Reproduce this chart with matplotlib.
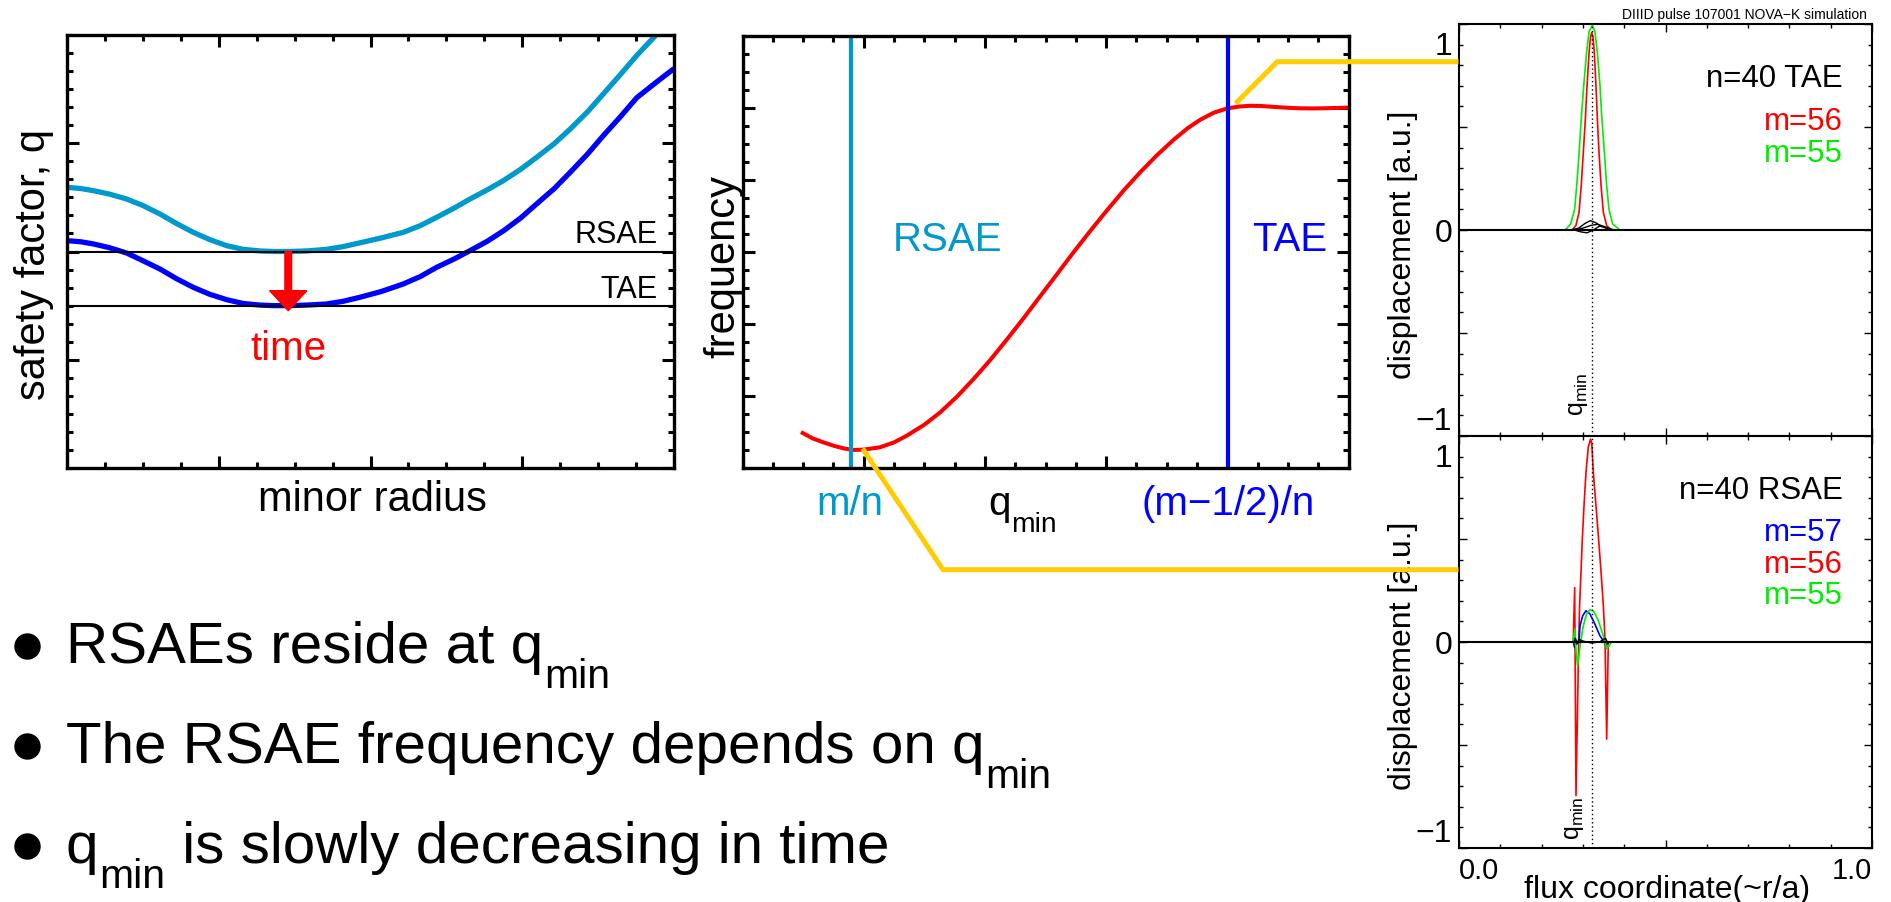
import matplotlib
matplotlib.use('Agg')
import matplotlib.pyplot as plt
from matplotlib.lines import Line2D
from matplotlib.ticker import MultipleLocator, FixedLocator

plt.rcParams['font.family'] = ['Liberation Sans', 'DejaVu Sans']

W, H = 1891, 903

# --- panel 1: safety factor profiles (early = light blue, late = blue)
r_early = [0.0, 0.09, 0.174, 0.28, 0.393, 0.50, 0.613, 0.72, 0.832, 0.94, 1.052, 1.16,
           1.272, 1.36, 1.459, 1.58, 1.71, 1.82, 1.93, 2.07, 2.216, 2.33, 2.436, 2.55,
           2.656, 2.77, 2.875, 2.99, 3.095, 3.21, 3.315, 3.43, 3.534, 3.65, 3.754, 3.875,
           3.91]
q_early = [2.593, 2.582, 2.562, 2.53, 2.485, 2.425, 2.346, 2.26, 2.177, 2.11, 2.054, 2.02,
           2.005, 2.0, 2.0, 2.005, 2.02, 2.045, 2.08, 2.125, 2.177, 2.24, 2.316, 2.40,
           2.485, 2.57, 2.654, 2.76, 2.87, 2.995, 3.13, 3.29, 3.455, 3.64, 3.81, 3.99,
           4.05]
r_late = [0.0, 0.09, 0.174, 0.28, 0.393, 0.50, 0.613, 0.72, 0.832, 0.94, 1.052, 1.16,
          1.272, 1.36, 1.459, 1.58, 1.71, 1.82, 1.93, 2.07, 2.216, 2.33, 2.436, 2.55,
          2.656, 2.77, 2.875, 2.99, 3.095, 3.21, 3.315, 3.43, 3.534, 3.65, 3.754, 3.88,
          4.0]
q_late = [2.10, 2.09, 2.07, 2.035, 1.986, 1.915, 1.838, 1.75, 1.669, 1.605, 1.555, 1.52,
          1.505, 1.5, 1.5, 1.505, 1.515, 1.54, 1.577, 1.63, 1.70, 1.77, 1.854, 1.93,
          2.008, 2.095, 2.19, 2.31, 2.44, 2.58, 2.73, 2.90, 3.07, 3.25, 3.42, 3.56,
          3.69]
q_rsae = 2.0
q_tae = 1.5
r_qmin = 1.458

# --- panel 2: frequency vs qmin
qmin_vals = [0.497, 0.58, 0.667, 0.76, 0.84, 0.914, 1.0, 1.134, 1.25, 1.355, 1.5, 1.63,
             1.77, 1.904, 2.04, 2.18, 2.32, 2.455, 2.6, 2.73, 2.87, 3.005, 3.15, 3.28,
             3.42, 3.555, 3.67, 3.775, 3.89, 4.003, 4.1, 4.187, 4.28, 4.38, 4.5, 4.6,
             4.7, 4.79, 4.9, 5.0]
freq_vals = [0.485, 0.41, 0.356, 0.305, 0.27, 0.25, 0.255, 0.287, 0.355, 0.448, 0.60, 0.77,
             0.99, 1.23, 1.49, 1.78, 2.08, 2.38, 2.70, 2.99, 3.29, 3.57, 3.86, 4.10,
             4.34, 4.55, 4.71, 4.83, 4.93, 4.99, 5.015, 5.025, 5.022, 5.01, 4.997, 4.99,
             4.988, 4.99, 4.995, 5.0]
q_mn = 0.895
q_m_half = 4.003

# --- right panels: NOVA-K mode structures, n=40
x_qmin = 0.321

tae_x_m56 = [0.0, 0.273, 0.283, 0.2906, 0.296, 0.301, 0.306, 0.310, 0.315, 0.3185, 0.3213,
             0.3245, 0.3276, 0.3317, 0.335, 0.339, 0.344, 0.3495, 0.3576, 0.37, 1.0]
tae_y_m56 = [0.0, 0.0, 0.023, 0.094, 0.237, 0.415, 0.593, 0.770, 0.949, 1.03, 1.055,
             1.03, 0.949, 0.770, 0.593, 0.415, 0.237, 0.094, 0.023, 0.0, 0.0]
tae_x_m55 = [0.0, 0.257, 0.2705, 0.280, 0.285, 0.291, 0.296, 0.302, 0.309, 0.315, 0.3228,
             0.329, 0.335, 0.3414, 0.346, 0.352, 0.3576, 0.363, 0.372, 0.39, 1.0]
tae_y_m55 = [0.0, 0.0, 0.032, 0.112, 0.237, 0.415, 0.593, 0.770, 0.949, 1.06, 1.094,
             1.06, 0.949, 0.770, 0.593, 0.415, 0.237, 0.112, 0.032, 0.0, 0.0]
tae_x_k1 = [0.0, 0.27, 0.29, 0.305, 0.318, 0.33, 0.345, 0.36, 0.38, 1.0]
tae_y_k1 = [0.0, 0.0, 0.01, 0.035, 0.05, 0.04, 0.02, 0.005, 0.0, 0.0]
tae_x_k2 = [0.0, 0.28, 0.30, 0.32, 0.335, 0.35, 0.365, 0.38, 1.0]
tae_y_k2 = [0.0, 0.0, 0.01, 0.025, 0.03, 0.02, 0.005, 0.0, 0.0]
tae_x_k3 = [0.0, 0.28, 0.295, 0.31, 0.325, 0.34, 0.355, 0.37, 1.0]
tae_y_k3 = [0.0, 0.0, -0.01, -0.015, 0.0, 0.02, 0.015, 0.0, 0.0]

rsae_x_m56 = [0.0, 0.2765, 0.2801, 0.2833, 0.2898, 0.292, 0.2954, 0.2986, 0.3027, 0.3075,
              0.313, 0.3185, 0.3215, 0.3252, 0.3317, 0.338, 0.344, 0.3495, 0.3535, 0.3576,
              0.3615, 1.0]
rsae_y_m56 = [0.0, 0.0, 0.29, -0.82, 0.0, 0.194, 0.372, 0.55, 0.728, 0.906,
              1.04, 1.084, 1.06, 0.906, 0.728, 0.55, 0.372, 0.194, 0.016, -0.518,
              0.0, 0.0]
rsae_x_m57 = [0.0, 0.277, 0.280, 0.2835, 0.2906, 0.293, 0.2995, 0.3075, 0.317, 0.329,
              0.341, 0.351, 0.356, 0.36, 1.0]
rsae_y_m57 = [0.0, 0.0, -0.03, -0.01, 0.0, 0.087, 0.14, 0.167, 0.15, 0.096,
              0.034, 0.002, -0.02, 0.0, 0.0]
rsae_x_m55 = [0.0, 0.276, 0.2805, 0.2835, 0.287, 0.2946, 0.301, 0.309, 0.317, 0.327,
              0.3373, 0.348, 0.3535, 0.3576, 0.37, 1.0]
rsae_y_m55 = [0.0, 0.0, 0.07, -0.05, -0.126, 0.0, 0.087, 0.15, 0.172, 0.162,
              0.114, 0.043, 0.0, -0.037, 0.0, 0.0]
rsae_x_k = [0.0, 0.278, 0.282, 0.286, 0.29, 0.30, 0.32, 0.34, 0.355, 0.36, 0.365, 1.0]
rsae_y_k = [0.0, 0.0, 0.02, -0.01, 0.015, 0.005, -0.005, 0.0, 0.02, -0.005, 0.0, 0.0]

CYAN = '#0099cc'
BLUE = '#0000ff'
RED = '#ff0000'
GREEN = '#00ee00'
GOLD = '#ffcc00'

fig = plt.figure(figsize=(W / 100, H / 100), dpi=100)
renderer = fig.canvas.get_renderer()


def box(l, t, r, b):
    return [l / W, 1 - b / H, (r - l) / W, (b - t) / H]


def fx(px):
    return px / W


def fy(py):
    return 1 - py / H


def style(ax, spine, major, minor, tw):
    ax.tick_params(which='both', direction='in', top=True, right=True, width=tw,
                   labelbottom=False, labelleft=False)
    ax.tick_params(which='major', length=major)
    ax.tick_params(which='minor', length=minor)
    for s in ax.spines.values():
        s.set_linewidth(spine)


def qmin_text(x, y, size, color='k', prefix='', suffix=''):
    # "q" with a lowered "min" subscript, x/y in pixels (baseline)
    t = fig.text(fx(x), fy(y), prefix + 'q', fontsize=size, color=color, va='baseline')
    bb = t.get_window_extent(renderer)
    drop = 0.43 * size * 100 / 72
    s = fig.text((bb.x1 + 1) / W, fy(y + drop), 'min', fontsize=size * 0.7,
                 color=color, va='baseline')
    if suffix:
        bb2 = s.get_window_extent(renderer)
        fig.text(bb2.x1 / W, fy(y), suffix, fontsize=size, color=color, va='baseline')


# ---------------- panel 1
ax1 = fig.add_axes(box(67, 36, 674, 469))
ax1.plot(r_early, q_early, color=CYAN, lw=3.8, solid_capstyle='butt')
ax1.plot(r_late, q_late, color=BLUE, lw=3.8, solid_capstyle='butt')
ax1.axhline(q_rsae, color='k', lw=1.5)
ax1.axhline(q_tae, color='k', lw=1.5)
ax1.arrow(r_qmin, q_rsae, 0, q_tae - q_rsae - 0.047, width=0.044, head_width=0.246,
          head_length=0.185, length_includes_head=True, color=RED, zorder=5)
ax1.text(r_qmin, 1.007, 'time', color=RED, fontsize=29, ha='center', va='baseline')
ax1.text(3.89, 2.09, 'RSAE', fontsize=22, ha='right', va='baseline')
ax1.text(3.89, 1.577, 'TAE', fontsize=22, ha='right', va='baseline')
ax1.set_xlim(0, 4)
ax1.set_ylim(0, 4)
ax1.xaxis.set_major_locator(MultipleLocator(1))
ax1.xaxis.set_minor_locator(MultipleLocator(0.25))
ax1.yaxis.set_major_locator(MultipleLocator(1))
ax1.yaxis.set_minor_locator(MultipleLocator(1 / 6))
style(ax1, 2.4, 8.4, 4.3, 2.2)
fig.text(fx(34), fy(265), 'safety factor, q', fontsize=30, rotation=90,
         ha='center', va='center')
fig.text(fx(372), fy(511), 'minor radius', fontsize=30, ha='center', va='baseline')

# ---------------- panel 2
ax2 = fig.add_axes(box(742.5, 36.5, 1348.5, 469))
ax2.plot(qmin_vals, freq_vals, color=RED, lw=2.9)
ax2.axvline(q_mn, color=CYAN, lw=3)
ax2.axvline(q_m_half, color=BLUE, lw=3)
ax2.text(1.242, 3.025, 'RSAE', color=CYAN, fontsize=29, va='baseline')
ax2.text(4.201, 3.025, 'TAE', color=BLUE, fontsize=29, va='baseline')
ax2.set_xlim(0, 5)
ax2.set_ylim(0, 6)
ax2.xaxis.set_major_locator(MultipleLocator(1))
ax2.xaxis.set_minor_locator(MultipleLocator(0.25))
ax2.yaxis.set_major_locator(MultipleLocator(1))
ax2.yaxis.set_minor_locator(MultipleLocator(0.25))
style(ax2, 2.4, 8.4, 4.3, 2.2)
fig.text(fx(723), fy(266), 'frequency', fontsize=30, rotation=90,
         ha='center', va='center', zorder=10)
fig.text(fx(850), fy(515), 'm/n', color=CYAN, fontsize=29, ha='center', va='baseline')
fig.text(fx(1228), fy(515), '(m\u22121/2)/n', color=BLUE, fontsize=29,
         ha='center', va='baseline')
qmin_text(988, 515, 29)

# ---------------- right panels
def right_axes(ax):
    ax.set_xlim(0, 1)
    ax.set_ylim(-1.1, 1.1)
    ax.xaxis.set_major_locator(FixedLocator([0, 0.5, 1.0]))
    ax.xaxis.set_minor_locator(MultipleLocator(0.1))
    ax.yaxis.set_major_locator(FixedLocator([-1.1, -0.55, 0, 0.55, 1.1]))
    ax.yaxis.set_minor_locator(MultipleLocator(0.11))
    style(ax, 1.5, 5.8, 2.9, 1.0)
    sec = ax.secondary_yaxis('left')
    sec.set_yticks([-1, 0, 1], ['\u22121', '0', '1'])
    sec.tick_params(length=0, labelsize=23, pad=5)
    sec.spines['left'].set_visible(False)
    ax.axhline(0, color='k', lw=1.5, zorder=4)
    ax.axvline(x_qmin, color='k', lw=1, ls=(0, (1, 2)))


ax3 = fig.add_axes(box(1459, 25, 1872, 437))
ax3.plot(tae_x_m56, tae_y_m56, color=RED, lw=1.2)
ax3.plot(tae_x_m55, tae_y_m55, color=GREEN, lw=1.2)
for xs, ys in [(tae_x_k1, tae_y_k1), (tae_x_k2, tae_y_k2), (tae_x_k3, tae_y_k3)]:
    ax3.plot(xs, ys, color='k', lw=1.0)
right_axes(ax3)
ax3.text(0.3174, -0.99, r'q$_{\mathregular{min}}$', fontsize=18, rotation=90,
         ha='right', va='bottom')

ax4 = fig.add_axes(box(1459, 437, 1872, 849))
ax4.plot(rsae_x_m56, rsae_y_m56, color=RED, lw=1.2)
ax4.plot(rsae_x_m57, rsae_y_m57, color=BLUE, lw=1.2)
ax4.plot(rsae_x_m55, rsae_y_m55, color=GREEN, lw=1.2)
ax4.plot(rsae_x_k, rsae_y_k, color='k', lw=1.0)
right_axes(ax4)
ax4.text(0.3075, -1.05, r'q$_{\mathregular{min}}$', fontsize=18, rotation=90,
         ha='right', va='bottom')
ax4.tick_params(axis='x', labelbottom=True, labelsize=21, pad=6)
ax4.set_xticks([0, 0.5, 1.0], ['0.0', '', '1.0'])
xl = ax4.get_xticklabels()
xl[0].set_ha('left')
xl[2].set_ha('right')

fig.text(fx(1403), fy(245), 'displacement [a.u.]', fontsize=23, rotation=90,
         ha='center', va='center')
fig.text(fx(1403), fy(656), 'displacement [a.u.]', fontsize=23, rotation=90,
         ha='center', va='center')
fig.text(fx(1667), fy(898), 'flux coordinate(~r/a)', fontsize=23, ha='center',
         va='baseline')
fig.text(fx(1866.7), fy(19.3), 'DIIID pulse 107001 NOVA\u2212K simulation', fontsize=10,
         ha='right', va='baseline')

for txt, col, yb in [('n=40 TAE', 'k', 87.3), ('m=56', RED, 130), ('m=55', GREEN, 161.7)]:
    fig.text(fx(1843), fy(yb), txt, color=col, fontsize=22.5, ha='right', va='baseline')
for txt, col, yb in [('n=40 RSAE', 'k', 499), ('m=57', BLUE, 540.7),
                     ('m=56', RED, 572.7), ('m=55', GREEN, 604.3)]:
    fig.text(fx(1843), fy(yb), txt, color=col, fontsize=22.5, ha='right', va='baseline')

# connector lines from the frequency curve to the mode structures
for xs, ys in [([864, 943, 1456], [451.7, 570.7, 570.7]),
               ([1237.3, 1277.3, 1456], [102.7, 62.7, 62.7])]:
    fig.add_artist(Line2D([fx(v) for v in xs], [fy(v) for v in ys], color=GOLD,
                          lw=3.6, transform=fig.transFigure, zorder=6))

# bullet list
bullet_y = [663, 763, 863]
for yb in bullet_y:
    fig.add_artist(Line2D([fx(27)], [fy(yb - 16)], marker='o', markersize=18, color='k',
                          transform=fig.transFigure))
qmin_text(66, bullet_y[0], 42, prefix='RSAEs reside at ')
qmin_text(66, bullet_y[1], 42, prefix='The RSAE frequency depends on ')
qmin_text(66, bullet_y[2], 42, suffix=' is slowly decreasing in time')

fig.savefig('out.png', dpi=100)
